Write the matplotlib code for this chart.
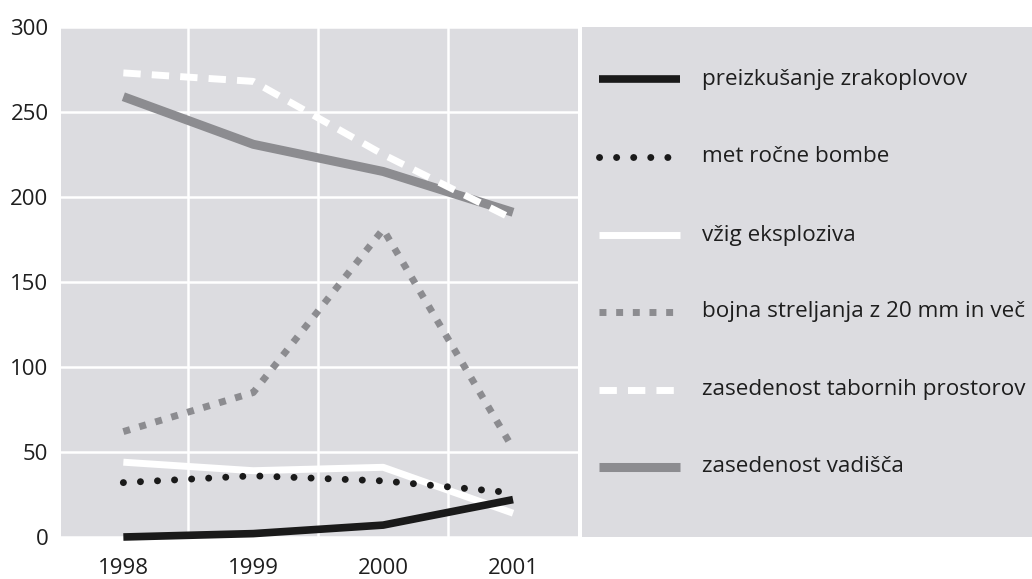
import matplotlib
matplotlib.use("Agg")
import matplotlib.pyplot as plt

years = [1998, 1999, 2000, 2001]
zrakoplovi = [0, 2, 7, 22]
rocne_bombe = [32, 36, 33, 26]
eksploziv = [44, 39, 41, 14]
bojna_streljanja = [62, 85, 181, 52]
taborni_prostori = [273, 268, 225, 187]
vadisca = [259, 231, 215, 191]

labels = [
    "preizkušanje zrakoplovov",
    "met ročne bombe",
    "vžig eksploziva",
    "bojna streljanja z 20 mm in več",
    "zasedenost tabornih prostorov",
    "zasedenost vadišča",
]
y_ticks = [0, 50, 100, 150, 200, 250, 300]

bg = "#dcdce0"
grey = "#8c8c90"
ink = "#1a1a1a"
txt = "#1e1e1e"

styles = [
    dict(color=ink, lw=5.5, solid_capstyle="butt"),
    dict(color=ink, lw=5, linestyle=(0, (0.01, 2.45)), dash_capstyle="round"),
    dict(color="white", lw=5, solid_capstyle="butt"),
    dict(color=grey, lw=5, linestyle=(0, (1.0, 1.4)), dash_capstyle="butt"),
    dict(color="white", lw=5, linestyle=(0, (2.5, 1.6)), dash_capstyle="butt"),
    dict(color=grey, lw=6.5, solid_capstyle="butt"),
]
series = [zrakoplovi, rocne_bombe, eksploziv, bojna_streljanja, taborni_prostori, vadisca]
# draw order: back to front
order = [5, 4, 3, 2, 1, 0]

plt.rcParams["font.family"] = ["Open Sans", "DejaVu Sans"]

W, H = 1032, 579
fig = plt.figure(figsize=(W / 100, H / 100), dpi=100)

ax = fig.add_axes([61 / W, (H - 537) / H, (578 - 61) / W, (537 - 27) / H])
ax.set_facecolor(bg)
for i in order:
    ax.plot(years, series[i], clip_on=False, zorder=3, **styles[i])

ax.set_xlim(1997.52, 2001.5)
ax.set_ylim(0, 300)
ax.set_xticks(years)
ax.set_yticks(y_ticks)
ax.set_xticks([1998.5, 1999.5, 2000.5], minor=True)
ax.grid(False)
ax.xaxis.grid(True, which="minor", color="white", lw=1.8)
ax.yaxis.grid(True, which="major", color="white", lw=1.8)
ax.tick_params(axis="both", which="both", length=0, labelsize=16, colors=txt)
ax.tick_params(axis="x", pad=15)
ax.tick_params(axis="y", pad=9)
for s in ax.spines.values():
    s.set_visible(False)

# legend panel
lax = fig.add_axes([582 / W, (H - 537) / H, (W - 582) / W, (537 - 27) / H])
lax.set_facecolor(bg)
lax.set_xlim(0, W - 582)
lax.set_ylim(537 - 27, 0)
lax.set_xticks([])
lax.set_yticks([])
for s in lax.spines.values():
    s.set_visible(False)

row_y = [52, 130, 208, 285, 363, 440]
for y, lab, st in zip(row_y, labels, styles):
    lax.plot([17, 98], [y, y], **st)
    lax.text(120, y, lab, va="center", ha="left", fontsize=16.2, color=txt)

fig.savefig("out.png", dpi=100)
